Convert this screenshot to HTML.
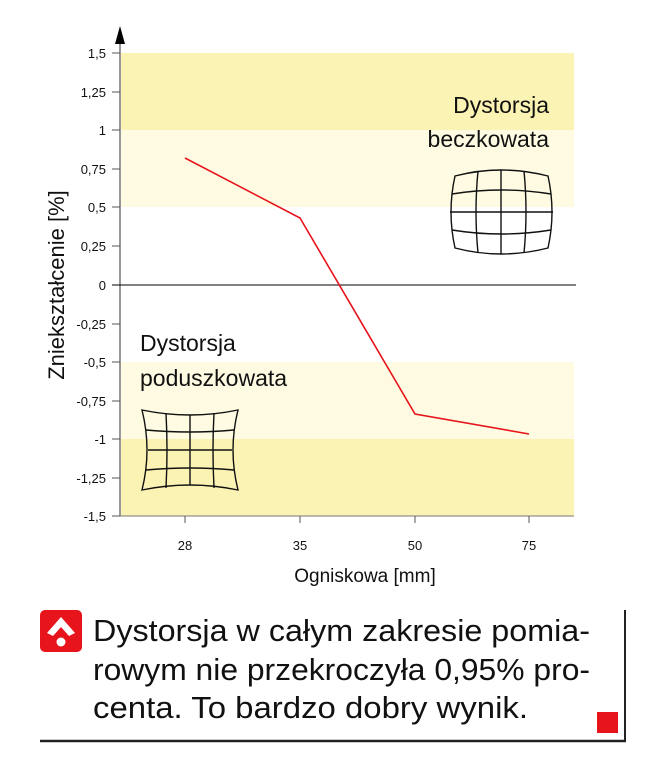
<!DOCTYPE html><html><head><style>body{margin:0;background:#fff;width:650px;height:768px;overflow:hidden}svg{display:block}</style></head><body>
<svg width="650" height="768" xmlns="http://www.w3.org/2000/svg" font-family="Liberation Sans, sans-serif">
<rect x="121" y="53" width="453" height="77" fill="#fbf3b4"/>
<rect x="121" y="130" width="453" height="77" fill="#fefbe2"/>
<rect x="121" y="362" width="453" height="77" fill="#fefbe2"/>
<rect x="121" y="439" width="453" height="77" fill="#fbf3b4"/>
<line x1="120" y1="40" x2="120" y2="516" stroke="#777" stroke-width="1.5"/>
<polygon points="120,26 115,44 125,44" fill="#000"/>
<line x1="120" y1="516" x2="574" y2="516" stroke="#777" stroke-width="1"/>
<line x1="112" y1="285" x2="576" y2="285" stroke="#000" stroke-width="1"/>
<g stroke="#555" stroke-width="1">
<line x1="112" y1="53" x2="120" y2="53"/><line x1="112" y1="92" x2="120" y2="92"/><line x1="112" y1="130" x2="120" y2="130"/><line x1="112" y1="169" x2="120" y2="169"/><line x1="112" y1="207" x2="120" y2="207"/><line x1="112" y1="246" x2="120" y2="246"/><line x1="112" y1="324" x2="120" y2="324"/><line x1="112" y1="362" x2="120" y2="362"/><line x1="112" y1="401" x2="120" y2="401"/><line x1="112" y1="439" x2="120" y2="439"/><line x1="112" y1="478" x2="120" y2="478"/><line x1="112" y1="516" x2="120" y2="516"/>
<line x1="185" y1="516" x2="185" y2="523"/><line x1="300" y1="516" x2="300" y2="523"/><line x1="415" y1="516" x2="415" y2="523"/><line x1="529" y1="516" x2="529" y2="523"/>
</g>
<g font-size="13" text-anchor="end" fill="#111">
<text x="106" y="58">1,5</text><text x="106" y="97">1,25</text><text x="106" y="135">1</text><text x="106" y="174">0,75</text><text x="106" y="212">0,5</text><text x="106" y="251">0,25</text><text x="106" y="290">0</text><text x="106" y="329">-0,25</text><text x="106" y="367">-0,5</text><text x="106" y="406">-0,75</text><text x="106" y="444">-1</text><text x="106" y="483">-1,25</text><text x="106" y="521">-1,5</text>
</g>
<g font-size="13" text-anchor="middle" fill="#111">
<text x="185" y="550">28</text><text x="300" y="550">35</text><text x="415" y="550">50</text><text x="529" y="550">75</text>
</g>
<text x="365" y="582" font-size="19" text-anchor="middle" fill="#111">Ogniskowa [mm]</text>
<text transform="translate(64,285) rotate(-90)" font-size="22" text-anchor="middle" fill="#111">Zniekształcenie [%]</text>
<polyline points="185,158 300,218 415,414 529,434" fill="none" stroke="#e8141c" stroke-width="1.6"/>
<g font-size="23" fill="#111">
<text x="549" y="113" text-anchor="end">Dystorsja</text><text x="549" y="147" text-anchor="end">beczkowata</text>
<text x="140" y="351">Dystorsja</text><text x="140" y="386">poduszkowata</text>
</g>
<g fill="none" stroke="#111" stroke-width="1.4">
<path d="M455,176 Q501,164 548,176 Q556,212 548,248 Q501,260 455,248 Q447,212 455,176Z"/>
<path d="M478,171 Q474,212 478,253 M501,170 V254 M524,171 Q528,212 524,253"/>
<path d="M452,194 Q501,186 551,194 M450,212 H553 M452,230 Q501,238 551,230"/>
<path d="M142,410 Q190,420 238,410 Q228,450 238,490 Q190,480 142,490 Q152,450 142,410Z"/>
<path d="M166,413 Q168,450 166,488 M190,415 V485 M214,413 Q212,450 214,488"/>
<path d="M146,430 Q190,434 234,430 M148,450 H232 M146,470 Q190,466 234,470"/>
</g>
<rect x="40" y="610" width="42" height="42" rx="5" fill="#e8141c"/>
<polygon points="61,617 47,633 53,636 61,627 69,636 75,633" fill="#fff"/>
<circle cx="61" cy="642" r="4.5" fill="#fff"/>
<g font-size="31" fill="#111" font-family="Liberation Sans, sans-serif">
<text x="93" y="641" textLength="497" lengthAdjust="spacingAndGlyphs">Dystorsja w całym zakresie pomia-</text>
<text x="93" y="680" textLength="497" lengthAdjust="spacingAndGlyphs">rowym nie przekroczyła 0,95% pro-</text>
<text x="93" y="718" textLength="435" lengthAdjust="spacingAndGlyphs">centa. To bardzo dobry wynik.</text>
</g>
<rect x="597" y="712" width="21" height="21" fill="#e8141c"/>
<line x1="625" y1="610" x2="625" y2="742" stroke="#222" stroke-width="2"/>
<line x1="40" y1="741" x2="626" y2="741" stroke="#222" stroke-width="2.5"/>
</svg></body></html>
